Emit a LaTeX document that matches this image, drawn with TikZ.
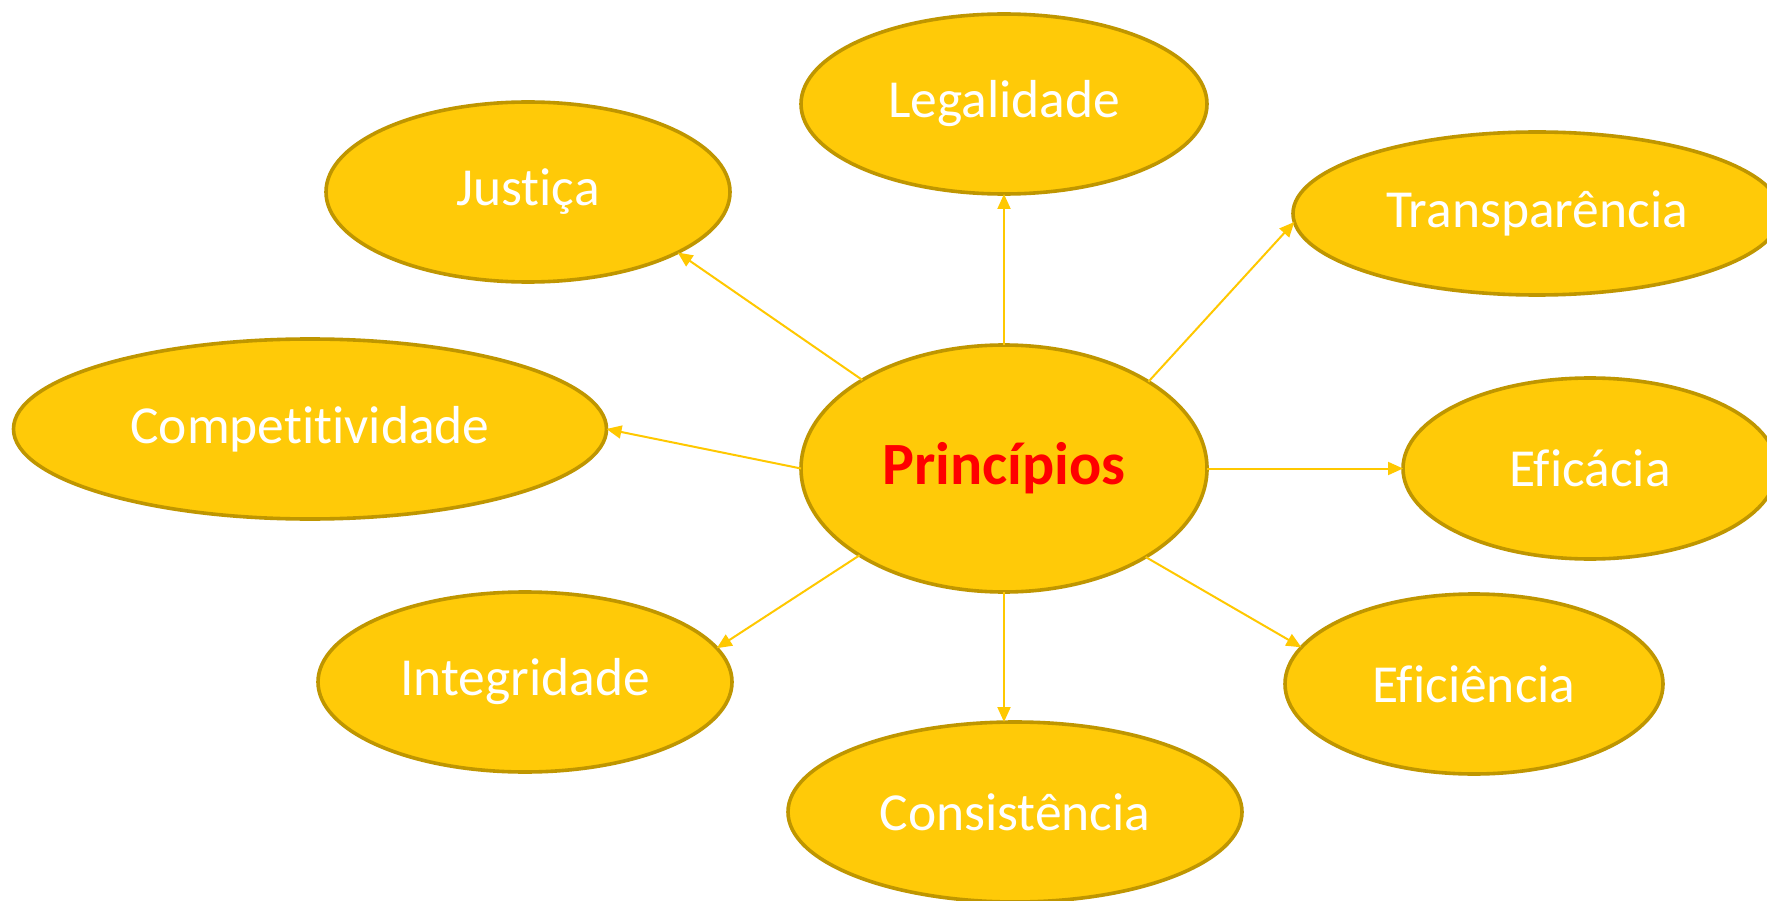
\documentclass[tikz,border=0pt]{standalone}
\usepackage{fontspec}
\setmainfont[Ligatures={NoCommon,NoContextual}]{Carlito}
\usetikzlibrary{shapes.geometric,arrows.meta}
\definecolor{ellfill}{HTML}{FFCA08}
\definecolor{elledge}{HTML}{BF9600}
\definecolor{arrcol}{HTML}{FFC800}
\definecolor{centred}{HTML}{FF0000}
\tikzset{
  bubble/.style={ellipse, draw=elledge, fill=ellfill, line width=3.6pt, inner sep=0pt, outer sep=0pt,
    text=white, font=\fontsize{53.5}{58}\selectfont},
  link/.style={draw=arrcol, line width=2pt, -{Triangle[length=15pt,width=13pt]}}
}
\begin{document}
\begin{tikzpicture}[x=1pt,y=1pt]
\useasboundingbox (0,0) rectangle (1767,-901);
\clip (0,0) rectangle (1767,-901);
\fill[white] (0,0) rectangle (1767,-901);
\node[bubble, minimum width=406pt, minimum height=247pt, font=\fontsize{60}{64}\selectfont\bfseries, text=centred] (P) at (1004,-468.5) {Princípios};
\node[bubble, minimum width=406pt, minimum height=180pt] (L) at (1004,-104) {Legalidade};
\node[bubble, minimum width=404pt, minimum height=180pt] (J) at (528,-192) {Justiça};
\node[bubble, minimum width=488pt, minimum height=163pt] (T) at (1537,-213.5) {Transparência};
\node[bubble, minimum width=593pt, minimum height=180pt] (K) at (310,-429) {Competitividade};
\node[bubble, minimum width=374pt, minimum height=181pt] (E) at (1590,-468.5) {Eficácia};
\node[bubble, minimum width=414pt, minimum height=180pt] (I) at (525,-682) {Integridade};
\node[bubble, minimum width=378pt, minimum height=180pt] (F) at (1474,-684) {Eficiência};
\node[bubble, minimum width=454pt, minimum height=180pt] (C) at (1015,-812) {Consistência};
\draw[link] (P.90) -- (L.-90);
\draw[link] (P.148.7) -- (J.-22);
\draw[link] (P.31.3) -- (T.182.7);
\draw[link] (P.180) -- (K.0);
\draw[link] (P.0) -- (E.180);
\draw[link] (P.211.3) -- (I.10.2);
\draw[link] (P.328.7) -- (F.168);
\draw[link] (P.-90) -- (P.-90 |- C.north);
\end{tikzpicture}
\end{document}
